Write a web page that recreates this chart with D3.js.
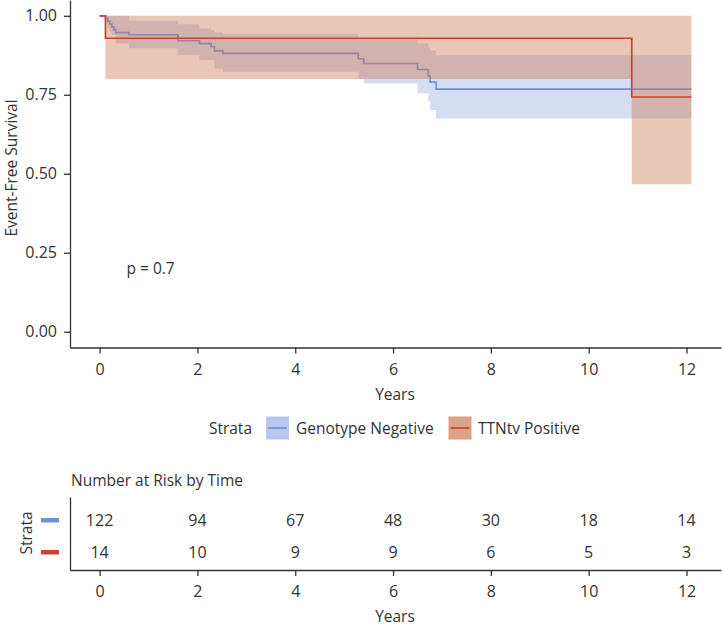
<!DOCTYPE html>
<html>
<head>
<meta charset="utf-8">
<script src="https://cdn.jsdelivr.net/npm/d3@7"></script>
<style>
  body { margin: 0; background: #fff; }
  svg text { font-family: "Open Sans", "Noto Sans", sans-serif; fill: #333; }
</style>
</head>
<body>
<svg id="chart" width="723" height="626"></svg>
<script>
// ---------- DATA ----------
const strata = ["Genotype Negative", "TTNtv Positive"];
const endTime = 12.1;
// Genotype Negative KM estimate
const negTimes = [0, 0.12, 0.17, 0.21, 0.25, 0.29, 0.33, 0.6, 1.6, 2.04, 2.28, 2.35, 2.52, 5.29, 5.4, 6.5, 6.72, 6.76, 6.88];
const negSurv  = [1, 0.992, 0.983, 0.974, 0.965, 0.956, 0.947, 0.940, 0.921, 0.912, 0.902, 0.889, 0.881, 0.864, 0.849, 0.830, 0.809, 0.790, 0.768];
const negUpper = [1, 1, 1, 1, 1, 1, 1, 0.984, 0.973, 0.960, 0.955, 0.947, 0.942, 0.925, 0.925, 0.913, 0.900, 0.891, 0.875];
const negLower = [1, 0.976, 0.960, 0.950, 0.940, 0.939, 0.9125, 0.897, 0.875, 0.860, 0.860, 0.833, 0.823, 0.800, 0.786, 0.754, 0.730, 0.702, 0.675];
// TTNtv Positive KM estimate
const posTimes = [0, 0.12, 10.88];
const posSurv  = [1, 0.929, 0.743];
const posUpper = [1, 1, 1];
const posLower = [1, 0.800, 0.467];
// tick labels / risk table
const xTicks = [0, 2, 4, 6, 8, 10, 12];
const yTicks = [0, 0.25, 0.5, 0.75, 1];
const riskNeg = [122, 94, 67, 48, 30, 18, 14];
const riskPos = [14, 10, 9, 9, 6, 5, 3];
const pText = "p = 0.7";

// ---------- STYLE ----------
const colNegLine = "#6F93D8";
const colPosLine = "#C9432F";
const colNegFill = "#D4DDF2";
const colPosFill = "rgb(206,120,80)";
const posFillOpacity = 0.42;
const axisCol = "#333";
const tickFont = 16;
const textFont = 15.5;

const svg = d3.select("#chart");

// ---------- SCALES ----------
const x = d3.scaleLinear().domain([-0.605, 12.705]).range([70, 721]);
const y = d3.scaleLinear().domain([-0.05, 1.05]).range([347.5, 0]);

function series(times, surv, up, lo) {
  const pts = times.map((t, i) => ({t, s: surv[i], u: up[i], l: lo[i]}));
  const last = pts[pts.length - 1];
  pts.push({t: endTime, s: last.s, u: last.u, l: last.l});
  return pts;
}
const neg = series(negTimes, negSurv, negUpper, negLower);
const pos = series(posTimes, posSurv, posUpper, posLower);

const area = d3.area().curve(d3.curveStepAfter)
  .x(d => x(d.t)).y0(d => y(d.l)).y1(d => y(d.u));
const line = d3.line().curve(d3.curveStepAfter)
  .x(d => x(d.t)).y(d => y(d.s));

const plot = svg.append("g");
plot.append("path").attr("d", area(neg)).attr("fill", colNegFill);
plot.append("path").attr("d", line(neg)).attr("fill", "none")
  .attr("stroke", colNegLine).attr("stroke-width", 1.7);
plot.append("path").attr("d", area(pos)).attr("fill", colPosFill).attr("fill-opacity", posFillOpacity);
plot.append("path").attr("d", line(pos)).attr("fill", "none")
  .attr("stroke", colPosLine).attr("stroke-width", 1.7);

// ---------- AXES ----------
function styleAxis(g) {
  g.select(".domain").attr("stroke", axisCol).attr("stroke-width", 1.3);
  g.selectAll(".tick line").attr("stroke", axisCol).attr("stroke-width", 1.3);
  g.selectAll(".tick text").attr("font-size", tickFont).attr("fill", "#333");
}
const yAxis = svg.append("g").attr("transform", "translate(70,0)")
  .call(d3.axisLeft(y).tickValues(yTicks).tickFormat(d3.format(".2f")).tickSize(6).tickPadding(7).tickSizeOuter(0));
styleAxis(yAxis);
const xAxis = svg.append("g").attr("transform", "translate(0,347.5)")
  .call(d3.axisBottom(x).tickValues(xTicks).tickSize(6).tickPadding(10).tickSizeOuter(0));
styleAxis(xAxis);

svg.append("text").attr("x", 395).attr("y", 400).attr("text-anchor", "middle")
  .attr("font-size", textFont).text("Years");
svg.append("text").attr("transform", "translate(17,168) rotate(-90)").attr("text-anchor", "middle")
  .attr("font-size", textFont).text("Event-Free Survival");
svg.append("text").attr("x", x(0.55)).attr("y", y(0.2) + 5.5).attr("font-size", textFont).text(pText);

// ---------- LEGEND ----------
const legY = 428;
svg.append("text").attr("x", 252).attr("y", legY + 5.5).attr("text-anchor", "end")
  .attr("font-size", textFont).text("Strata");
const legendItems = [
  {name: strata[0], x0: 266, fill: "#B7C8EC", line: colNegLine, tx: 296},
  {name: strata[1], x0: 448.5, fill: "#DCA288", line: colPosLine, tx: 478}
];
legendItems.forEach(it => {
  svg.append("rect").attr("x", it.x0).attr("y", legY - 11.5).attr("width", 23).attr("height", 23)
    .attr("fill", it.fill);
  svg.append("line").attr("x1", it.x0 + 2).attr("x2", it.x0 + 21).attr("y1", legY).attr("y2", legY)
    .attr("stroke", it.line).attr("stroke-width", 1.7);
  svg.append("text").attr("x", it.tx).attr("y", legY + 5.5).attr("font-size", textFont).text(it.name);
});

// ---------- RISK TABLE ----------
svg.append("text").attr("x", 71).attr("y", 486).attr("font-size", textFont).text("Number at Risk by Time");
const ty = d3.scalePoint().domain(strata).range([520, 552]);
const tAxisY = svg.append("g").attr("transform", "translate(70,0)")
  .call(d3.axisLeft(d3.scaleLinear().domain([0, 1]).range([570, 497])).tickValues([]).tickSizeOuter(0));
styleAxis(tAxisY);
const tAxisX = svg.append("g").attr("transform", "translate(0,570)")
  .call(d3.axisBottom(x).tickValues(xTicks).tickSize(6).tickPadding(10).tickSizeOuter(0));
styleAxis(tAxisX);
svg.append("text").attr("x", 395).attr("y", 622).attr("text-anchor", "middle")
  .attr("font-size", textFont).text("Years");
svg.append("text").attr("transform", "translate(32,533) rotate(-90)").attr("text-anchor", "middle")
  .attr("font-size", textFont).text("Strata");
[[strata[0], riskNeg, colNegLine], [strata[1], riskPos, colPosLine]].forEach(([name, vals, col]) => {
  svg.append("rect").attr("x", 41).attr("y", ty(name) - 2).attr("width", 18).attr("height", 4.5).attr("fill", col);
  svg.selectAll(null).data(vals).enter().append("text")
    .attr("x", (d, i) => x(xTicks[i])).attr("y", ty(name) + 6)
    .attr("text-anchor", "middle").attr("font-size", tickFont).text(d => d);
});
</script>
</body>
</html>
